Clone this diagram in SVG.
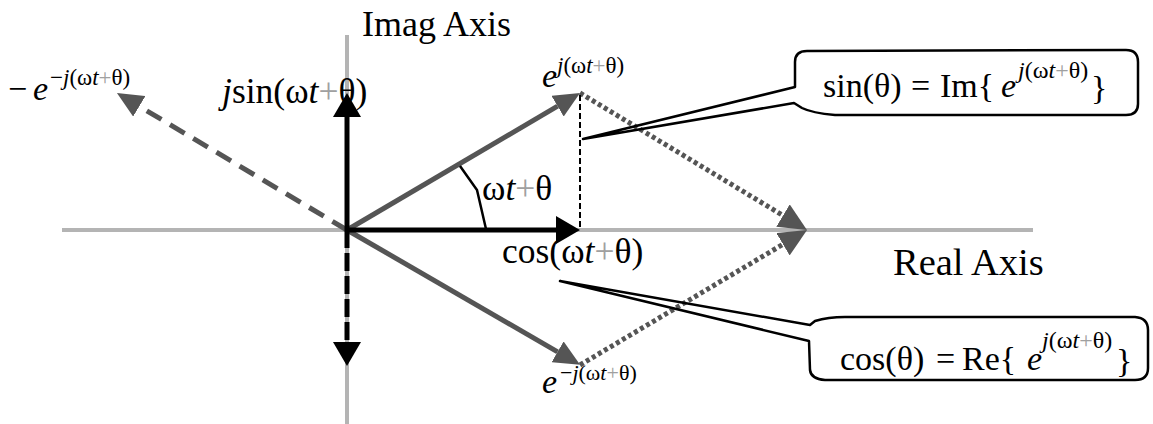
<svg xmlns="http://www.w3.org/2000/svg" width="1153" height="424" viewBox="0 0 1153 424">
<style>
text{font-family:"Liberation Serif","Times New Roman",serif;fill:#000}
.lbl{font-size:34px}
.big{font-size:35.5px}
.ax{font-size:36px}
.sup{font-size:23px}
.it{font-style:italic}
.pl{fill:#a0a0a0}
.axis{stroke:#b4b4b4;stroke-width:4;fill:none}
.bk{stroke:#000;stroke-width:5;fill:none}
.gr{stroke:#555;stroke-width:5;fill:none}
.call{stroke:#000;stroke-width:2.5;fill:none;stroke-linejoin:round}
</style>
<defs>
<marker id="ahb" markerUnits="userSpaceOnUse" viewBox="0 0 24 28" refX="0" refY="14" markerWidth="24" markerHeight="28" orient="auto"><path d="M0,0 L24,14 L0,28 Z" fill="#000"/></marker>
<marker id="ahg" markerUnits="userSpaceOnUse" viewBox="0 0 26 24" refX="0" refY="12" markerWidth="26" markerHeight="24" orient="auto"><path d="M0,0 L26,12 L0,24 Z" fill="#555"/></marker>
<marker id="ahd" markerUnits="userSpaceOnUse" viewBox="0 0 28 26" refX="0" refY="13" markerWidth="28" markerHeight="26" orient="auto"><path d="M0,0 L28,13 L0,26 Z" fill="#555"/></marker>
</defs>
<g id="axes">
<line class="axis" x1="62" y1="230" x2="1033" y2="230"/>
<line class="axis" x1="347" y1="35" x2="347" y2="424"/>
</g>
<g id="connectors">
<line class="gr" x1="347" y1="230" x2="139.3" y2="106.3" stroke-dasharray="17 10" marker-end="url(#ahg)"/>
<line class="gr" x1="347" y1="230" x2="557.6" y2="106.2" marker-end="url(#ahg)"/>
<line class="gr" x1="347" y1="230" x2="557.6" y2="351.8" marker-end="url(#ahg)"/>
<line class="gr" x1="580" y1="93" x2="783" y2="215.5" stroke-dasharray="4 3" marker-end="url(#ahd)"/>
<line class="gr" x1="580" y1="365" x2="783" y2="244.3" stroke-dasharray="4 3" marker-end="url(#ahd)"/>
<line class="bk" x1="347" y1="230" x2="347" y2="117" marker-end="url(#ahb)"/>
<line class="bk" x1="347" y1="230" x2="556" y2="230" marker-end="url(#ahb)"/>
<line class="bk" x1="347" y1="230" x2="347" y2="342" stroke-dasharray="18 5" marker-end="url(#ahb)"/>
<line x1="580" y1="95" x2="580" y2="230" stroke="#000" stroke-width="2" stroke-dasharray="6 3"/>
<path d="M460,166 L477,190 L486,229" stroke="#000" stroke-width="2.5" fill="none"/>
</g>
<g id="labels">
<text class="ax" x="362" y="36">Imag Axis</text>
<text class="ax" x="893" y="275" style="font-size:38.5px">Real Axis</text>
<text class="big" x="222" y="103"><tspan class="it">j</tspan>sin(ω<tspan class="it">t</tspan><tspan class="pl">+</tspan>θ)</text>
<text class="big" x="502" y="263">cos(ω<tspan class="it">t</tspan><tspan class="pl">+</tspan>θ)</text>
<text class="big" x="482" y="200">ω<tspan class="it">t</tspan><tspan class="pl">+</tspan>θ</text>
<g id="lbl-e-pos"><text class="lbl it" x="542" y="87">e</text><text class="sup" x="557" y="73"><tspan class="it">j</tspan>(ω<tspan class="it">t</tspan><tspan class="pl">+</tspan>θ)</text></g>
<g id="lbl-e-neg"><text class="lbl it" x="542" y="393">e</text><text class="sup" x="560" y="380" style="font-size:22px">−<tspan class="it">j</tspan>(ω<tspan class="it">t</tspan><tspan class="pl">+</tspan>θ)</text></g>
<g id="lbl-neg-e"><text class="lbl" x="8" y="100">−</text><text class="lbl it" x="33" y="100">e</text><text class="sup" x="50" y="85">−<tspan class="it">j</tspan>(ω<tspan class="it">t</tspan><tspan class="pl">+</tspan>θ)</text></g>
</g>
<g id="callout-sin">
<path class="call" d="M583,139 L795,87 L795,62 Q795,51 807,51 L1126,50 Q1138,50 1138,62 L1138,104 Q1138,115 1126,115 L835,115 Q812,113 802,108 L794,103 Z"/>
<text class="lbl" x="823" y="97">sin(θ)</text>
<text class="lbl" x="911" y="97">=</text>
<text class="lbl" x="940" y="97">Im{</text>
<text class="lbl it" x="1001" y="97">e</text>
<text class="sup" x="1018" y="78" style="font-size:24px"><tspan class="it">j</tspan>(ω<tspan class="it">t</tspan><tspan class="pl">+</tspan>θ)</text>
<text class="lbl" x="1091" y="99">}</text>
</g>
<g id="callout-cos">
<path class="call" d="M560,281 L810,325 L815,321 Q828,317 845,317 L1135,317 Q1148,318 1148,330 L1148,368 Q1148,380 1135,380 L825,380 Q811,379 810,370 L809,341 Z"/>
<text class="lbl" x="840" y="370">cos(θ)</text>
<text class="lbl" x="936" y="370">=</text>
<text class="lbl" x="962" y="370">Re{</text>
<text class="lbl it" x="1027" y="370">e</text>
<text class="sup" x="1042" y="348" style="font-size:24px"><tspan class="it">j</tspan>(ω<tspan class="it">t</tspan><tspan class="pl">+</tspan>θ)</text>
<text class="lbl" x="1116" y="372">}</text>
</g>
</svg>
